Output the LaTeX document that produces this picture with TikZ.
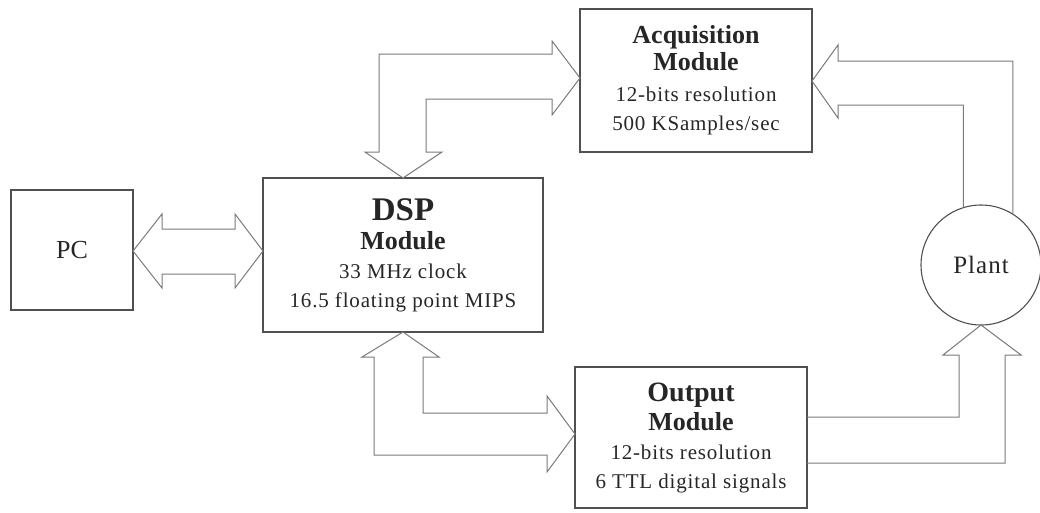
\documentclass[tikz,border=0pt]{standalone}
\usepackage{fontspec}
\setmainfont{Liberation Serif}
\newfontfamily\spacedserif[LetterSpace=4]{Liberation Serif}
\definecolor{boxgray}{HTML}{505050}
\definecolor{arrowgray}{HTML}{7A7A7A}
\definecolor{textgray}{HTML}{262626}
\newcommand\mhead{\fontsize{26}{29}\selectfont\bfseries}
\newcommand\mbig{\fontsize{33}{29}\selectfont\bfseries}
\newcommand\mbody{\fontsize{21}{29}\selectfont\spacedserif}
\begin{document}
\begin{tikzpicture}[x=1pt,y=-1pt,
  box/.style={draw=boxgray,line width=1.1pt,rectangle,inner sep=0pt,outer sep=0pt,
    align=center,text=textgray,font={\fontsize{21}{29}\selectfont}},
  fatarrow/.style={draw=arrowgray,line width=1pt,line join=miter}]
\useasboundingbox (0,0) rectangle (1040,512);

% blocks
\node[box,minimum width=122pt,minimum height=120pt] (pc) at (72,250)
  {\fontsize{26}{29}\selectfont PC};
\node[box,minimum width=280pt,minimum height=154pt] (dsp) at (403,255)
  {\mbig DSP\\ \mhead Module\\ \mbody 33 MHz clock\\ \mbody 16.5 floating point MIPS};
\node[box,minimum width=232pt,minimum height=143pt] (acq) at (696,80.5)
  {\mhead Acquisition\\[-2pt] \mhead Module\\[2pt] \mbody 12-bits resolution\\ \mbody 500 KSamples/sec};
\node[box,minimum width=232pt,minimum height=141pt] (out) at (691,437.5)
  {\fontsize{28}{29}\selectfont\bfseries Output\\ \mhead Module\\ \mbody 12-bits resolution\\ \mbody 6 TTL digital signals};
\node[box,circle,minimum size=120pt] (plant) at (981,265)
  {\fontsize{25}{29}\selectfont\spacedserif Plant};

% PC <-> DSP
\draw[fatarrow] (pc.east |- 0,251) -- (162,214) -- (162,229) -- (235,229) -- (235,214)
  -- (dsp.west |- 0,251) -- (235,288) -- (235,274) -- (162,274) -- (162,288) -- cycle;

% DSP <-> Acquisition
\draw[fatarrow] (dsp.north) -- (442,152) -- (426,152) -- (426,99) -- (552,99) -- (552,115)
  -- (acq.west |- 0,78) -- (552,41) -- (552,54) -- (379,54) -- (379,152) -- (365,152) -- cycle;

% DSP <-> Output
\draw[fatarrow] (dsp.south) -- (439,357) -- (423,357) -- (423,413) -- (547,413) -- (547,396)
  -- (out.west |- 0,434) -- (547,472) -- (547,455) -- (374,455) -- (374,357) -- (362,357) -- cycle;

% Plant -> Acquisition
\draw[fatarrow] (plant.107.5) -- (plant.107.5 |- 0,105) -- (838,105) -- (838,118)
  -- (acq.east |- 0,81) -- (838,45) -- (838,61) -- (plant.58.9 |- 0,61) -- (plant.58.9);

% Output -> Plant
\draw[fatarrow] (out.east |- 0,417) -- (959,417) -- (959,355) -- (943,355)
  -- (plant.south) -- (1021,355) -- (1005,355) -- (1005,463) -- (out.east |- 0,463);
\end{tikzpicture}
\end{document}
